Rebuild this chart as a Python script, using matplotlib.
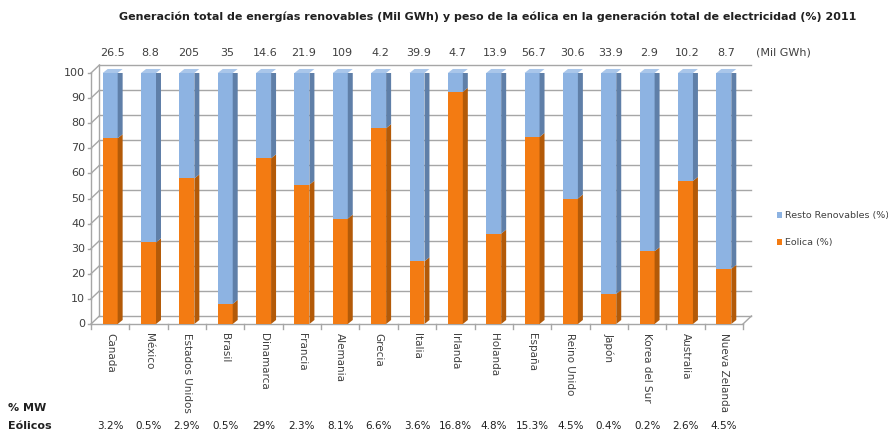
import numpy as np
import matplotlib
matplotlib.use("Agg")
import matplotlib.pyplot as plt
from matplotlib.patches import Polygon

#=============================================================================#
# Data #
#=============================================================================#
paises = ["Canada", "México", "Estados Unidos", "Brasil", "Dinamarca", "Francia",
          "Alemania", "Grecia", "Italia", "Irlanda", "Holanda", "España",
          "Reino Unido", "Japón", "Korea del Sur", "Australia", "Nueva Zelanda"]
eolica = [74, 32.5, 58, 8, 66, 55.5, 42, 78, 25, 92.5, 36, 74.5, 50, 12, 29, 57, 22]
resto = [100 - e for e in eolica]
gwh = ["26.5", "8.8", "205", "35", "14.6", "21.9", "109", "4.2", "39.9", "4.7",
       "13.9", "56.7", "30.6", "33.9", "2.9", "10.2", "8.7"]
mw_eolicos = ["3.2%", "0.5%", "2.9%", "0.5%", "29%", "2.3%", "8.1%", "6.6%", "3.6%",
              "16.8%", "4.8%", "15.3%", "4.5%", "0.4%", "0.2%", "2.6%", "4.5%"]
yticks = list(range(0, 101, 10))
#=============================================================================#

c_or = "#F37B12"
c_or_side = "#B35A08"
c_bl = "#8DB3E2"
c_bl_side = "#5F7FA8"
c_bl_top = "#A9C6EA"
grid_c = "#A6A6A6"
txt_c = "#404040"

W, H = 888, 437
fig = plt.figure(figsize=(W / 100, H / 100), dpi=100)
fig.patch.set_facecolor("white")

# axes area: front floor 0 at y=324px, 100 at 73px ; x from 91px to 743px
ax = fig.add_axes([91 / W, (H - 324) / H, 652 / W, 251 / H])
ax.set_xlim(-0.5, 16.5)
ax.set_ylim(0, 100)
ax.axis("off")

n = len(paises)
x = np.arange(n)
dxw, dyw = 0.22, 3.2   # wall depth
dxb, dyb = 0.13, 1.6   # bar depth
bw = 0.39

# back wall grid + left wall diagonals
for t in yticks:
    ax.plot([-0.5 + dxw, n - 0.5 + dxw], [t + dyw, t + dyw], color=grid_c, lw=1, zorder=0, clip_on=False)
    ax.plot([-0.5, -0.5 + dxw], [t, t + dyw], color=grid_c, lw=1, zorder=0, clip_on=False)
    ax.plot([-0.5 - 0.08, -0.5], [t, t], color=grid_c, lw=1, zorder=0, clip_on=False)
    ax.text(-0.5 - 0.15, t, str(t), ha="right", va="center", fontsize=8, color=txt_c)
ax.plot([-0.5, -0.5], [0, 100], color=grid_c, lw=1, zorder=0, clip_on=False)
ax.plot([-0.5 + dxw, -0.5 + dxw], [dyw, 100 + dyw], color=grid_c, lw=1, zorder=0, clip_on=False)
# floor
ax.plot([-0.5, n - 0.5], [0, 0], color=grid_c, lw=1, zorder=0, clip_on=False)
ax.plot([n - 0.5, n - 0.5 + dxw], [0, dyw], color=grid_c, lw=1, zorder=0, clip_on=False)
for b in np.arange(-0.5, n, 1.0):
    ax.plot([b, b], [0, -2], color=grid_c, lw=1, zorder=0, clip_on=False)

# bars
ax.bar(x, eolica, width=bw, color=c_or, zorder=2, label="Eolica (%)")
ax.bar(x, resto, width=bw, bottom=eolica, color=c_bl, zorder=2, label="Resto Renovables (%)")
for xi, e in zip(x, eolica):
    r = xi + bw / 2
    ax.add_patch(Polygon([(r, 0), (r + dxb, dyb), (r + dxb, e + dyb), (r, e)],
                         closed=True, color=c_or_side, zorder=2, lw=0))
    ax.add_patch(Polygon([(r, e), (r + dxb, e + dyb), (r + dxb, 100 + dyb), (r, 100)],
                         closed=True, color=c_bl_side, zorder=2, lw=0))
    ax.add_patch(Polygon([(xi - bw / 2, 100), (r, 100), (r + dxb, 100 + dyb),
                          (xi - bw / 2 + dxb, 100 + dyb)],
                         closed=True, color=c_bl_top, zorder=2, lw=0, clip_on=False))

# text rows
for xi, g in zip(x, gwh):
    ax.text(xi + 0.05, 108, g, ha="center", va="center", fontsize=8, color=txt_c)
ax.text(n - 0.5 + 0.35, 108, "(Mil GWh)", ha="left", va="center", fontsize=8, color=txt_c)
for xi, p in zip(x, paises):
    ax.text(xi, -3.5, p, rotation=270, ha="center", va="top", fontsize=7.5, color=txt_c)
for xi, m in zip(x, mw_eolicos):
    fig.text((91 + (xi + 0.5) * 652 / 17) / W, 1 - 426 / H, m, ha="center", va="center",
             fontsize=7.5, color="#202020")
fig.text(8 / W, 1 - 408 / H, "% MW", ha="left", va="center", fontsize=8, fontweight="bold", color="#202020")
fig.text(8 / W, 1 - 426 / H, "Eólicos", ha="left", va="center", fontsize=8, fontweight="bold", color="#202020")

fig.text(488 / W, 1 - 17 / H,
         "Generación total de energías renovables (Mil GWh) y peso de la eólica en la generación total de electricidad (%) 2011",
         ha="center", va="center", fontsize=8, fontweight="bold", color="#202020")

# legend
h, l = ax.get_legend_handles_labels()
fig.legend(h[::-1], l[::-1], loc="center left", bbox_to_anchor=(772 / W, 1 - 229 / H),
           frameon=False, fontsize=6.8, handlelength=0.6, handleheight=0.6, handletextpad=0.3,
           labelspacing=1.9, labelcolor=txt_c, borderpad=0)

plt.savefig("out.png", dpi=100)
